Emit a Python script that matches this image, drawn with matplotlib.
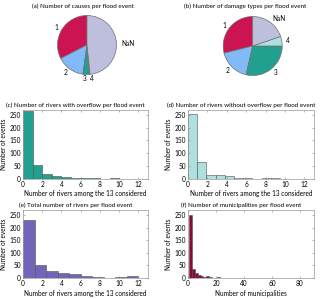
import numpy as np
import matplotlib
matplotlib.use('Agg')
import matplotlib.pyplot as plt

plt.rcParams['font.family'] = ['Lato', 'DejaVu Sans']

# ---------------- data ----------------
pie_labels = ['1', '2', '3', '4', 'NaN']
causes = [117, 55, 13, 1, 174]          # (a)
damages = [104, 63, 103, 19, 71]        # (b)

# rivers with overflow (c), bins of width 1
c_edges = np.arange(0, 11, 1.0)
c_counts = [265, 52, 19, 11, 5, 2, 2, 2, 0, 1]

# rivers without overflow (d), bins of width 0.95
d_edges = np.linspace(0, 9.5, 11)
d_counts = [254, 66, 15, 15, 8, 2, 1, 0, 1, 1]

# total rivers (e), bins of width 1.2
e_edges = np.linspace(0, 12, 11)
e_counts = [230, 53, 27, 20, 15, 8, 2, 1, 2, 6]

# municipalities (f), bins of width 2 starting at 1
f_counts = [250, 36, 18, 11, 6, 4, 6, 2, 1, 1, 2, 1, 1, 0, 1, 0, 1, 1, 0, 1,
            0, 1, 0, 0, 0, 0, 0, 0, 0, 1]
f_edges = 1 + 2.0*np.arange(len(f_counts)+1)

clr_1 = '#cc1452'
clr_2 = '#82b9f7'
clr_3 = '#21a08f'
clr_4 = '#aee0e0'
clr_nan = '#bebedd'
clr_e = '#7464b9'
clr_f = '#8a0a30'

fs = 4.7
W, H = 320, 299

fig = plt.figure(figsize=(W/100, H/100), dpi=100)

def px_axes(l, t, r, b):
    return fig.add_axes([l/W, 1-b/H, (r-l)/W, (b-t)/H])

# ---------------- pies ----------------
def draw_pie(cx, cy, vals, title, tx):
    r = 29.5
    half = 50.0
    ax = px_axes(cx-half, cy-half, cx+half, cy+half)
    wedges, texts = ax.pie(vals, labels=pie_labels, startangle=90, counterclock=True,
                           colors=[clr_1, clr_2, clr_3, clr_4, clr_nan],
                           labeldistance=1.15,
                           wedgeprops=dict(edgecolor='#707070', linewidth=0.5),
                           textprops=dict(fontsize=fs))
    ax.set_xlim(-half/r, half/r)
    ax.set_ylim(-half/r, half/r)
    ax.set_aspect('equal')
    ax.axis('off')
    fig.text(tx/W, 1-6/H, title, fontsize=fs-0.2, ha='center', va='center')

draw_pie(87, 45, causes, '(a) Number of causes per flood event', 83)
draw_pie(252.7, 46, damages, '(b) Number of damage types per flood event', 245)

# ---------------- histograms ----------------
def draw_hist(box, edges, counts, color, title, xlabel, xlim, xticks):
    ax = px_axes(*box)
    ax.bar(edges[:-1], counts, width=np.diff(edges), align='edge',
           color=color, edgecolor='#505050', linewidth=0.4)
    ax.set_xlim(*xlim)
    ax.set_ylim(0, 270)
    ax.set_xticks(xticks)
    ax.set_yticks([0, 50, 100, 150, 200, 250])
    ax.tick_params(which='both', direction='in', top=True, right=True,
                   length=1.5, width=0.4, labelsize=fs, pad=1.5, color='#808080')
    for s in ax.spines.values():
        s.set_color('#9a9a9a')
        s.set_linewidth(0.5)
    ax.set_xlabel(xlabel, fontsize=fs, labelpad=2)
    ax.set_ylabel('Number of events', fontsize=fs, labelpad=2)
    ax.set_title(title, fontsize=fs-0.2, pad=2, x=0.42)
    return ax

xl = 'Number of rivers among the 13 considered'
draw_hist((23, 110, 148, 178.5), c_edges, c_counts, clr_3,
          '(c) Number of rivers with overflow per flood event', xl, (0, 13), range(0, 13, 2))
draw_hist((188, 110, 314, 178.5), d_edges, d_counts, clr_4,
          '(d) Number of rivers without overflow per flood event', xl, (0, 13), range(0, 13, 2))
draw_hist((23, 210, 148, 278), e_edges, e_counts, clr_e,
          '(e) Total number of rivers per flood event', xl, (0, 13), range(0, 13, 2))
draw_hist((188, 210, 314, 278), f_edges, f_counts, clr_f,
          '(f) Number of municipalities per flood event', 'Number of municipalities',
          (0, 90), range(0, 90, 20))

fig.savefig('out.png', dpi=100)
